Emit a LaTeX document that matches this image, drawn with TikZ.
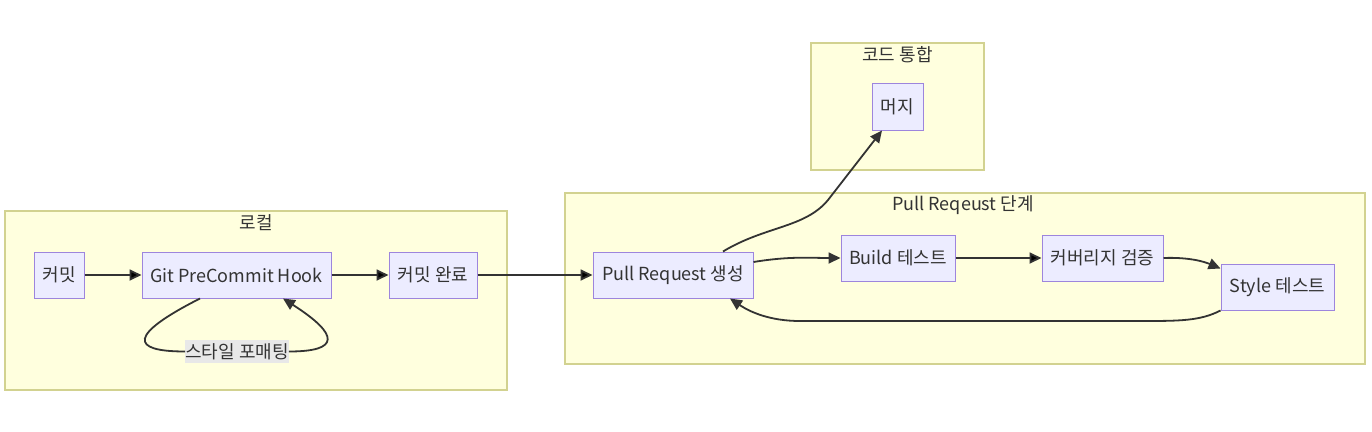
\documentclass[tikz,border=0pt]{standalone}
\usepackage{fontspec}
\setmainfont{Noto Sans CJK KR}
\usetikzlibrary{arrows.meta}
\definecolor{clusterfill}{HTML}{FFFFDE}
\definecolor{clusterline}{HTML}{D2D290}
\definecolor{boxfill}{HTML}{ECECFF}
\definecolor{boxline}{HTML}{9D85DD}
\definecolor{edgecol}{HTML}{333333}
\definecolor{labelfill}{HTML}{E8E8E8}

\begin{document}
\begin{tikzpicture}[x=1pt, y=-1pt,
                    every node/.style={font=\fontsize{18}{21}\selectfont, text=edgecol, inner sep=0pt},
                    cluster/.style={rectangle, draw=clusterline, fill=clusterfill, line width=1.2pt},
                    box/.style={rectangle, draw=boxline, fill=boxfill, line width=1pt, minimum height=46pt},
                    flow/.style={draw=edgecol, line width=1.8pt, -{Triangle[length=12pt,width=11pt]}}]

    \useasboundingbox (0,0) rectangle (1372,431);

    % Define clusters
    \node[cluster, minimum width=502pt, minimum height=179pt] (local) at (256,300.5) {}; % 로컬
    \node[cluster, minimum width=800pt, minimum height=171pt] (prstage) at (965,278.5) {}; % PR 단계
    \node[cluster, minimum width=173pt, minimum height=127pt] (merging) at (897.5,106.5) {}; % 코드 통합
    \node (localtitle) at (256,223) {로컬};
    \node (prtitle) at (963,205) {Pull Reqeust 단계};
    \node (mergetitle) at (897.5,55) {코드 통합};

    % Define nodes
    \node[box, minimum width=50pt] (commit) at (59,275) {커밋}; % start
    \node[box, minimum width=189pt] (hook) at (236.5,275) {Git PreCommit Hook};
    \node[box, minimum width=88pt] (done) at (433,275) {커밋 완료};
    \node[box, minimum width=160pt] (prcreate) at (673,275) {Pull Request 생성};
    \node[box, minimum width=114pt] (build) at (898,258) {Build 테스트};
    \node[box, minimum width=121pt] (coverage) at (1102.5,258) {커버리지 검증};
    \node[box, minimum width=113pt] (style) at (1277.5,287) {Style 테스트};
    \node[box, minimum width=51pt, minimum height=47pt] (merge) at (897.5,106.5) {머지};
    \node[fill=labelfill, minimum width=101pt, minimum height=23pt] (fmt) at (237,351.5) {스타일 포매팅};

    % Define edges
    \path [flow](commit) edge (hook);
    \path [flow](hook) edge (done);
    \path [flow](done) edge (prcreate);
    \path [flow](build) edge (coverage);
    \draw [flow, -] ([xshift=-36.5pt]hook.south) .. controls (128,335) and (130,351.5) .. (fmt.west);
    \draw [flow] (fmt.east) .. controls (340,351.5) and (340,335) .. ([xshift=46.5pt]hook.south);
    \draw [flow] ([yshift=13pt]prcreate.east) .. controls (790,256) and (810,258) .. (build.west);
    \draw [flow] (coverage.east) .. controls (1190,257) and (1205,262) .. ([yshift=-5pt]style.north west);
    \draw [flow] (style.south west) .. controls (1200,321) and (1180,321) .. (1140,321) -- (800,321)
                 .. controls (770,321) and (750,312) .. ([xshift=57pt]prcreate.south);
    \draw [flow] ([xshift=50pt]prcreate.north) .. controls (765,226) and (805,228) .. (828,200)
                 -- ([xshift=-15.5pt]merge.south);
\end{tikzpicture}
\end{document}
